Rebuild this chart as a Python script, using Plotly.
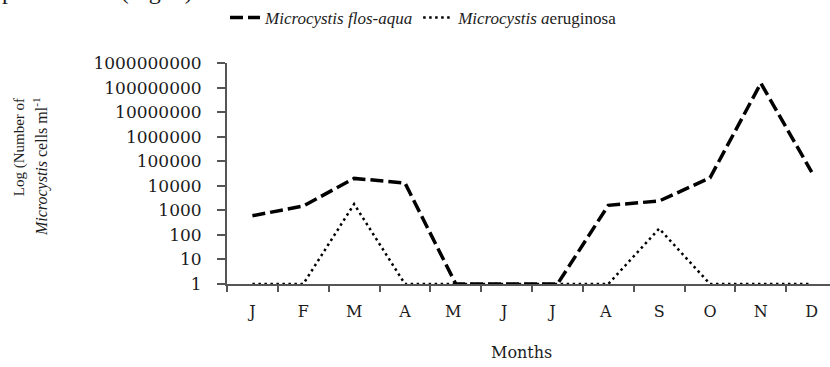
import plotly.graph_objects as go

# Monthly counts of Microcystis cells per ml (log scale)
months = ["J", "F", "M", "A", "M ", "J ", "J  ", "A ", "S", "O", "N", "D"]
flos_aqua = [600, 1500, 20000, 13000, 1, 1, 1, 1600, 2400, 21000, 150000000, 36000]
aeruginosa = [1, 1, 1800, 1, 1, 1, 1, 1, 180, 1, 1, 1]

y_ticks = [1, 10, 100, 1000, 10000, 100000, 1000000, 10000000, 100000000, 1000000000]
y_tick_text = [str(v) for v in y_ticks]

serif = "DejaVu Serif"
times = "Liberation Serif"
ink = "#1c1c1c"
axis_grey = "#555555"

fig = go.Figure()
fig.add_trace(go.Scatter(
    x=months, y=flos_aqua, mode="lines",
    name="<i>Microcystis flos-aqua</i>",
    line=dict(color="black", width=3.5, dash="13px,5px"),
    cliponaxis=False,
))
fig.add_trace(go.Scatter(
    x=months, y=aeruginosa, mode="lines",
    name="<i>Microcystis a</i>eruginosa",
    line=dict(color="black", width=2.5, dash="2.5px,3.5px"),
    cliponaxis=False,
))

fig.update_layout(
    width=830, height=367,
    margin=dict(l=227, r=0, t=61, b=83),
    paper_bgcolor="white", plot_bgcolor="white",
    showlegend=True,
    legend=dict(
        orientation="h", x=(225 - 227) / 603, y=(284 - 15) / 223,
        xanchor="left", yanchor="middle",
        font=dict(family=times, size=17, color=ink),
        bgcolor="rgba(0,0,0,0)", itemwidth=30,
    ),
    xaxis=dict(
        type="category", range=[-0.5, 11.36],
        tickson="boundaries", ticks="outside", ticklen=6, tickwidth=1.5,
        tickcolor=axis_grey, showline=True, linecolor=axis_grey, linewidth=2,
        showgrid=False, zeroline=False,
        tickfont=dict(family=serif, size=16, color=ink),
        ticklabelstandoff=12,
    ),
    yaxis=dict(
        type="log", range=[0, 9],
        tickvals=y_ticks, ticktext=y_tick_text,
        ticks="outside", ticklen=8, tickwidth=1.5, tickcolor=axis_grey,
        showline=True, linecolor=axis_grey, linewidth=2,
        showgrid=False, zeroline=False,
        tickfont=dict(family=serif, size=17, color=ink),
        ticklabelstandoff=12,
    ),
)

# Axis titles and the running text line cut off at the top edge
fig.add_annotation(
    text="Months", xref="paper", yref="paper",
    x=(521 - 227) / 603, y=(284 - 353) / 223,
    xanchor="center", yanchor="middle", showarrow=False,
    font=dict(family=serif, size=16, color=ink),
)
fig.add_annotation(
    text="Log (Number of", xref="paper", yref="paper",
    x=(19 - 227) / 603, y=(284 - 146) / 223, textangle=-90,
    xanchor="center", yanchor="middle", showarrow=False,
    font=dict(family=times, size=15, color=ink),
)
fig.add_annotation(
    text="<i>Microcystis</i> cells ml<sup>-1</sup>", xref="paper", yref="paper",
    x=(40 - 227) / 603, y=(284 - 166) / 223, textangle=-90,
    xanchor="center", yanchor="middle", showarrow=False,
    font=dict(family=times, size=16, color=ink),
)
fig.add_annotation(
    text="peak bloom (Fig. 2)", xref="paper", yref="paper",
    x=(0 - 227) / 603, y=(284 + 12) / 223,
    xanchor="left", yanchor="middle", showarrow=False,
    font=dict(family=times, size=24, color=ink),
)

fig.write_html("out.html")
